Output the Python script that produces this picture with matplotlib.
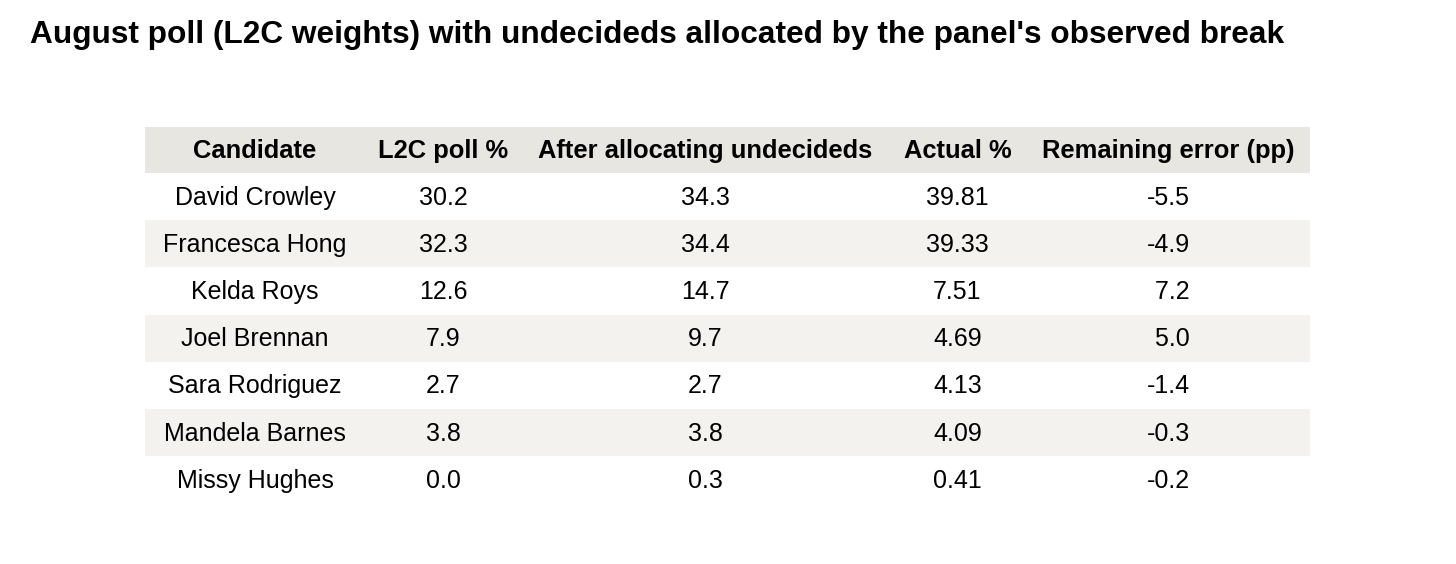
import matplotlib.pyplot as plt
from matplotlib.patches import Rectangle

plt.rcParams["font.family"] = ["Liberation Sans", "DejaVu Sans"]

TITLE = "August poll (L2C weights) with undecideds allocated by the panel's observed break"
HEADERS = ["Candidate", "L2C poll %", "After allocating undecideds", "Actual %", "Remaining error (pp)"]
candidates = ["David Crowley", "Francesca Hong", "Kelda Roys", "Joel Brennan",
              "Sara Rodriguez", "Mandela Barnes", "Missy Hughes"]
l2c_poll = [30.2, 32.3, 12.6, 7.9, 2.7, 3.8, 0.0]
allocated = [34.3, 34.4, 14.7, 9.7, 2.7, 3.8, 0.3]
actual = [39.81, 39.33, 7.51, 4.69, 4.13, 4.09, 0.41]
error = [-5.5, -4.9, 7.2, 5.0, -1.4, -0.3, -0.2]

# column edges and row geometry in pixels
col_edges = [145, 365, 522, 888, 1027, 1310]
header_top, header_h, row_h = 127, 46, 47.2

fig = plt.figure(figsize=(14.56, 5.64), dpi=100)
ax = fig.add_axes([0, 0, 1, 1])
ax.set_xlim(0, 1456)
ax.set_ylim(564, 0)
ax.axis("off")

ax.text(30, 35, TITLE, fontsize=22.8, fontweight="bold", va="center", ha="left")

# header
ax.add_patch(Rectangle((col_edges[0], header_top), col_edges[-1] - col_edges[0], header_h,
                       color="#e8e6e0", lw=0))
for i, h in enumerate(HEADERS):
    cx = (col_edges[i] + col_edges[i + 1]) / 2
    ax.text(cx, header_top + header_h / 2 + 1, h, fontsize=18.4, fontweight="bold",
            ha="center", va="center")

rows = zip(candidates, l2c_poll, allocated, actual, error)
for r, (name, p, a, act, e) in enumerate(rows):
    top = header_top + header_h + r * row_h
    if r % 2 == 1:
        ax.add_patch(Rectangle((col_edges[0], top), col_edges[-1] - col_edges[0], row_h,
                               color="#f3f2ee", lw=0))
    cells = [name, f"{p:.1f}", f"{a:.1f}", f"{act:.2f}",
             f"{e:.1f}" if e < 0 else f" {e:.1f}"]
    for i, c in enumerate(cells):
        cx = (col_edges[i] + col_edges[i + 1]) / 2
        ax.text(cx, top + row_h / 2 + 1, c, fontsize=18, ha="center", va="center")

fig.savefig("out.png", dpi=100)
